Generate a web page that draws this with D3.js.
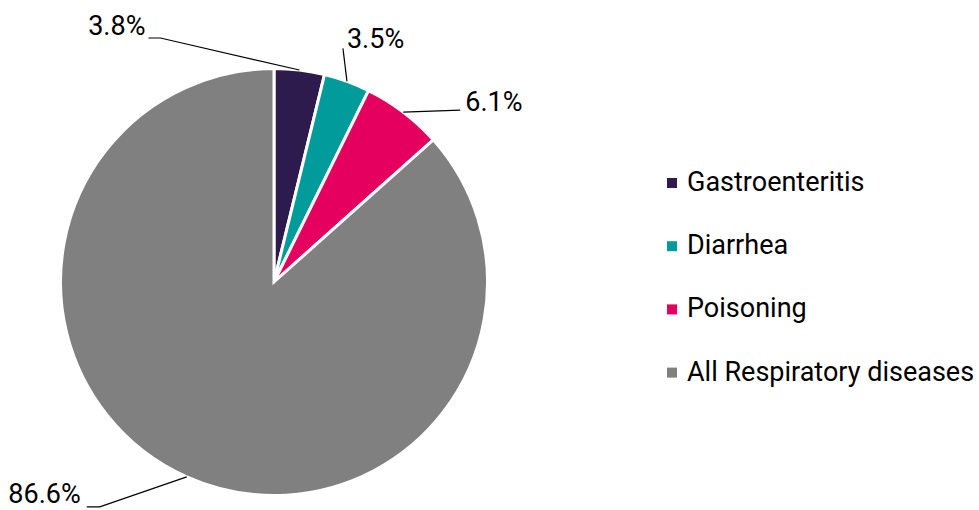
<!DOCTYPE html>
<html>
<head>
<meta charset="utf-8">
<script src="https://cdn.jsdelivr.net/npm/d3@7"></script>
<style>
  html, body { margin: 0; padding: 0; background: #fff; }
  svg { display: block; }
  text { font-family: Roboto, "Noto Sans", sans-serif; fill: #000; }
</style>
</head>
<body>
<svg id="chart" width="979" height="510"></svg>
<script>
// ---- data ----
const categories = ["Gastroenteritis", "Diarrhea", "Poisoning", "All Respiratory diseases"];
const values = [3.8, 3.5, 6.1, 86.6];
const labels = ["3.8%", "3.5%", "6.1%", "86.6%"];
const colors = ["#2D1B4E", "#009B9A", "#E5005F", "#808080"];

// ---- layout ----
const W = 979, H = 510;
const cx = 274, cy = 282, R = 213.5;
const fontSize = 27;
// label layout: elbow offset (relative to arc point), horizontal run, text anchor
const labelLayout = [
  { elbow: [-139, -32], run: -12, anchor: "end",   tdx: -3, tdy: -3 },
  { elbow: [-4, -33],   run: 0,   anchor: "start", tdx: 4,  tdy: 0 },
  { elbow: [57, -2],    run: 0,   anchor: "start", tdx: 5,  tdy: 1 },
  { elbow: [-87, 30],   run: -13, anchor: "end",   tdx: -6, tdy: -4 }
];

const svg = d3.select("#chart");
const g = svg.append("g").attr("transform", `translate(${cx},${cy})`);

const pie = d3.pie().sort(null).value(d => d.value);
const data = categories.map((c, i) => ({ name: c, value: values[i], label: labels[i], color: colors[i], i }));
const arcs = pie(data);
const arc = d3.arc().innerRadius(0).outerRadius(R);

g.selectAll("path.slice").data(arcs).enter().append("path")
  .attr("class", "slice")
  .attr("d", arc)
  .attr("fill", d => d.data.color)
  .attr("stroke", "#fff")
  .attr("stroke-width", 3)
  .attr("stroke-linejoin", "miter");

// labels
arcs.forEach((a, i) => {
  const mid = (a.startAngle + a.endAngle) / 2;
  const px = R * Math.sin(mid), py = -R * Math.cos(mid);
  const L = labelLayout[i];
  const ex = px + L.elbow[0], ey = py + L.elbow[1];
  const fx = ex + L.run, fy = ey;
  g.append("polyline")
    .attr("points", [[px, py], [ex, ey], [fx, fy]].map(p => p.join(",")).join(" "))
    .attr("fill", "none")
    .attr("stroke", "#000")
    .attr("stroke-width", 1.2);
  g.append("text")
    .attr("x", fx + L.tdx)
    .attr("y", fy + L.tdy)
    .attr("text-anchor", L.anchor)
    .attr("font-size", fontSize)
    .text(a.data.label);
});

// legend
const legendX = 667, legendY0 = 183, legendStep = 63.2;
const lg = svg.append("g");
data.forEach((d, i) => {
  const y = legendY0 + i * legendStep;
  lg.append("rect")
    .attr("x", legendX).attr("y", y - 5)
    .attr("width", 10).attr("height", 10)
    .attr("fill", d.color);
  lg.append("text")
    .attr("x", legendX + 20)
    .attr("y", y + 8)
    .attr("font-size", fontSize)
    .text(d.name);
});
</script>
</body>
</html>
